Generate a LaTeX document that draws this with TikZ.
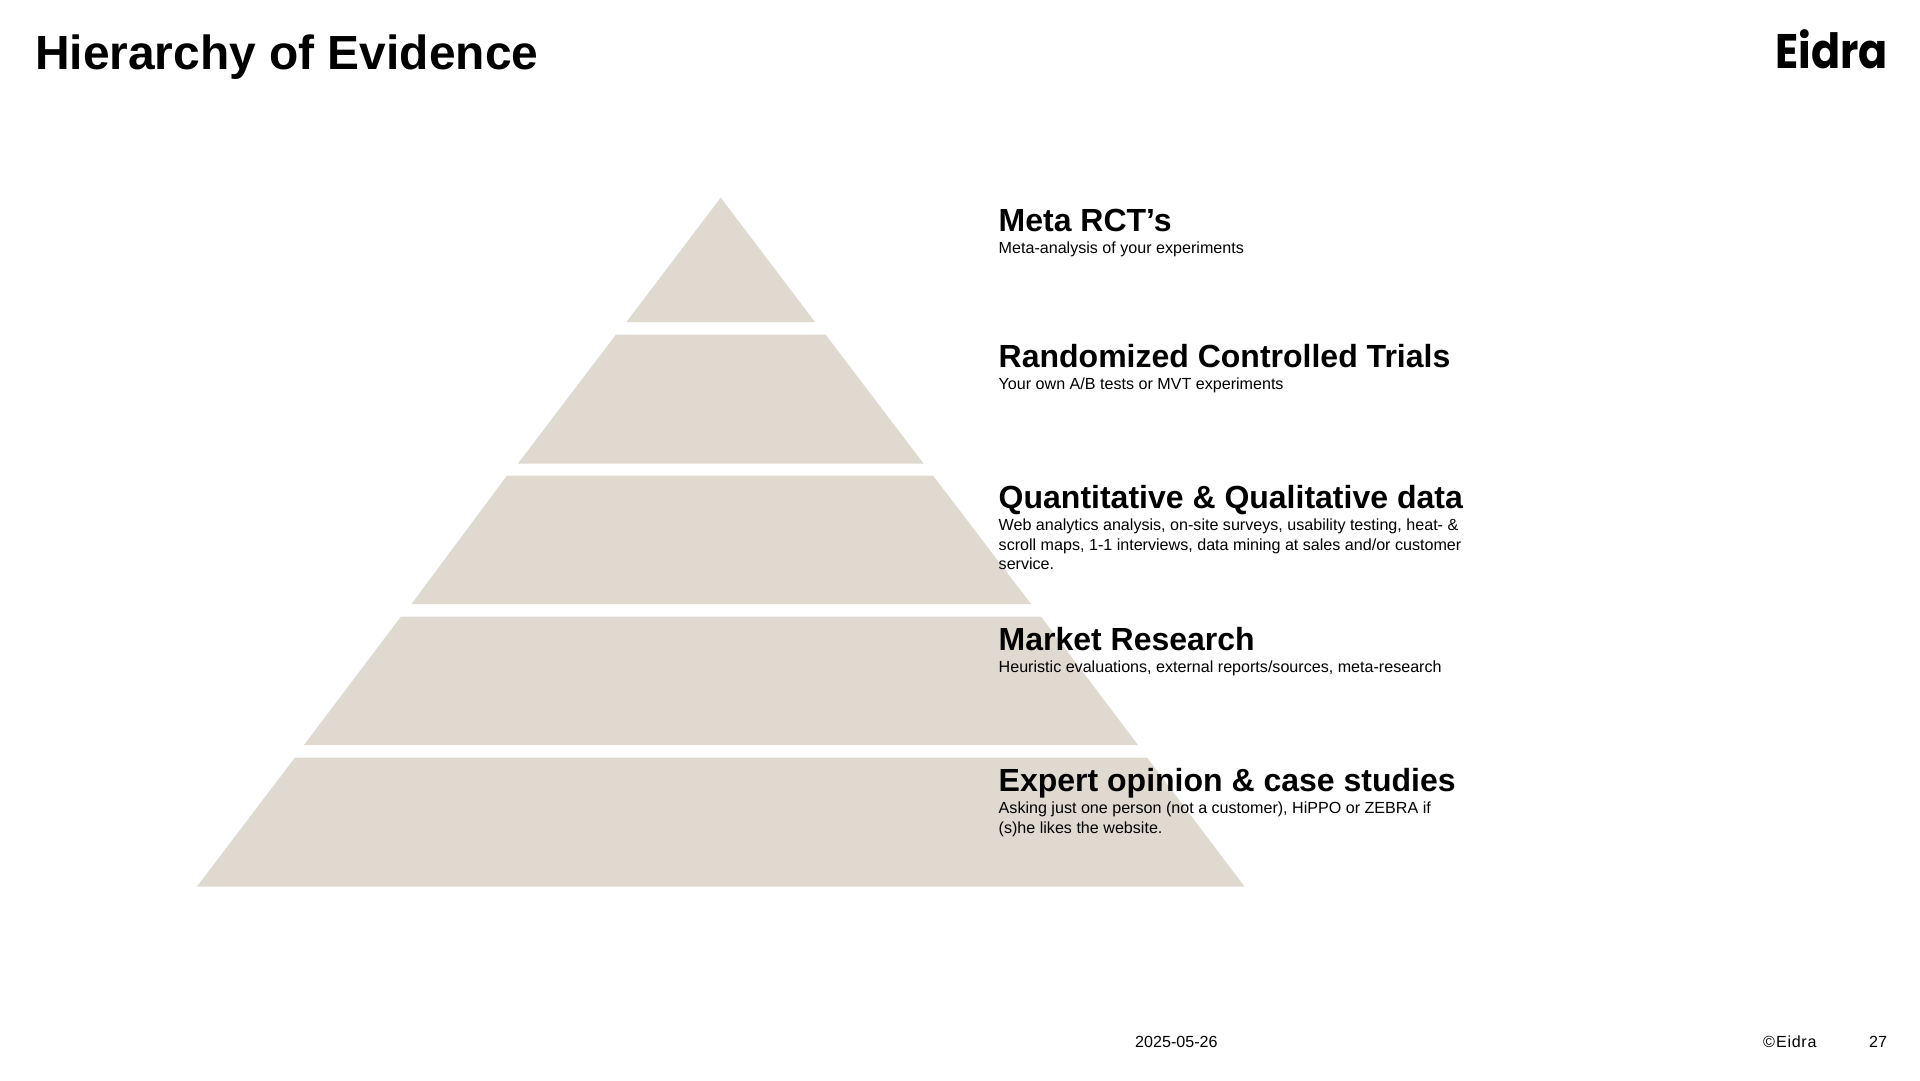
\documentclass[tikz,border=0pt]{standalone}
\usepackage{fontspec}
\setmainfont{Liberation Sans}
\newfontfamily\logofont{Poppins}
\definecolor{sand}{HTML}{DFD9D0}
\tikzset{
  tier/.style={fill=sand,draw=none},
  pagetitle/.style={anchor=base west,inner sep=0pt,font=\bfseries\fontsize{47.9}{56}\selectfont},
  head/.style={anchor=base west,inner sep=0pt,font=\bfseries\fontsize{32}{38}\selectfont},
  body/.style={anchor=north west,inner sep=0pt,align=left,font=\fontsize{16.1}{19.6}\selectfont},
  foot/.style={anchor=base west,inner sep=0pt,font=\fontsize{16.1}{19}\selectfont},
  logo/.style={anchor=base west,inner sep=0pt,xscale=.885,font=\logofont\bfseries\fontsize{48.5}{56}\selectfont}
}
\begin{document}
\begin{tikzpicture}[x=1pt,y=-1pt]
\useasboundingbox (0,0) rectangle (1920,1080);
\fill[tier] (720.7,197.6) -- (815,322) -- (626.5,322) -- cycle;
\fill[tier] (616,334.5) -- (825.5,334.5) -- (923.5,463.5) -- (518,463.5) -- cycle;
\fill[tier] (507,475.5) -- (933,475.5) -- (1031,604) -- (411.5,604) -- cycle;
\fill[tier] (401,616.5) -- (1041,616.5) -- (1138,745) -- (304,745) -- cycle;
\fill[tier] (295,757.5) -- (1147,757.5) -- (1244.5,886.5) -- (197,886.5) -- cycle;

\node[pagetitle] (title) at (35,69.5) {Hierarchy of Evidence};
\node[logo] (brand) at (1775,68.5) {Eidra};

\node[head] (h1) at (998.5,231) {Meta RCT’s};
\node[body] (b1) at (998.5,239.5) {\strut Meta-analysis of your experiments};
\node[head] (h2) at (998.5,367) {Randomized Controlled Trials};
\node[body] (b2) at (998.5,375.5) {\strut Your own A/B tests or MVT experiments};
\node[head] (h3) at (998.5,508) {Quantitative \& Qualitative data};
\node[body] (b3) at (998.5,516.5) {\strut Web analytics analysis, on-site surveys, usability testing, heat- \&\\scroll maps, 1-1 interviews, data mining at sales and/or customer\\service.};
\node[head] (h4) at (998.5,650) {Market Research};
\node[body] (b4) at (998.5,658.5) {\strut Heuristic evaluations, external reports/sources, meta-research};
\node[head] (h5) at (998.5,791) {Expert opinion \& case studies};
\node[body] (b5) at (998.5,799.5) {\strut Asking just one person (not a customer), HiPPO or ZEBRA if\\(s)he likes the website.};

\node[foot] (date) at (1135,1047) {2025-05-26};
\node[foot] (copy) at (1763,1047) {©\kern1pt E\kern.7pt i\kern.7pt d\kern.7pt r\kern.7pt a};
\node[foot] (page) at (1869,1047) {27};
\end{tikzpicture}
\end{document}
